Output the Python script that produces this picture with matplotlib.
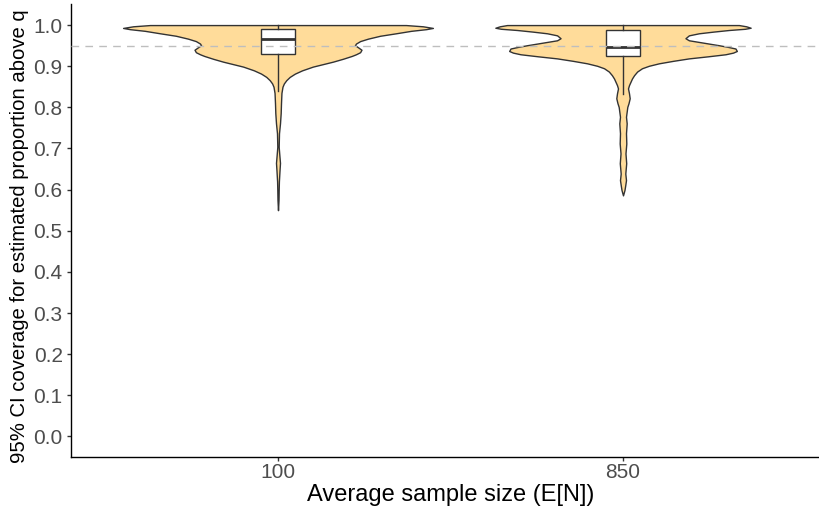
import numpy as np
import matplotlib.pyplot as plt

plt.rcParams['font.family'] = ['Liberation Sans', 'DejaVu Sans']

# --- data ---
categories = ["100", "850"]

# violin outlines: coverage value and half width (in x-axis units)
v100_y = [1.000, 0.997, 0.993, 0.990, 0.986, 0.980, 0.974, 0.967, 0.961, 0.955,
          0.951, 0.946, 0.940, 0.934, 0.929, 0.925, 0.918, 0.911, 0.905, 0.899,
          0.890, 0.882, 0.874, 0.866, 0.858, 0.850, 0.835, 0.810, 0.786, 0.761,
          0.737, 0.704, 0.685, 0.665, 0.645, 0.620, 0.599, 0.575, 0.550]
v100_w = [0.371, 0.420, 0.449, 0.429, 0.386, 0.342, 0.296, 0.261, 0.238, 0.226,
          0.223, 0.232, 0.242, 0.238, 0.226, 0.214, 0.188, 0.159, 0.130, 0.101,
          0.070, 0.049, 0.034, 0.024, 0.017, 0.013, 0.010, 0.0087, 0.0078, 0.0058,
          0.0029, 0.002, 0.0038, 0.0058, 0.0043, 0.0026, 0.002, 0.0015, 0.0]

v850_y = [1.000, 0.997, 0.9935, 0.991, 0.988, 0.984, 0.980, 0.975, 0.968, 0.963,
          0.959, 0.955, 0.951, 0.947, 0.943, 0.937, 0.933, 0.929, 0.924, 0.919,
          0.913, 0.907, 0.901, 0.895, 0.887, 0.878, 0.870, 0.862, 0.854, 0.846,
          0.834, 0.822, 0.810, 0.801, 0.777, 0.761, 0.737, 0.712, 0.688, 0.664,
          0.639, 0.623, 0.610, 0.599, 0.586]
v850_w = [0.336, 0.357, 0.370, 0.354, 0.307, 0.261, 0.220, 0.191, 0.181, 0.191,
          0.220, 0.249, 0.278, 0.304, 0.326, 0.330, 0.319, 0.297, 0.246, 0.191,
          0.145, 0.104, 0.075, 0.055, 0.041, 0.032, 0.026, 0.0217, 0.0174, 0.0145,
          0.0174, 0.0194, 0.016, 0.0125, 0.0087, 0.0107, 0.0087, 0.0096, 0.0072, 0.0093,
          0.0067, 0.0087, 0.0064, 0.0043, 0.0]

# box stats: lower whisker, q1, median, q3, upper whisker
box100 = [0.840, 0.929, 0.965, 0.9895, 1.000]
box850 = [0.832, 0.9246, 0.947, 0.988, 1.000]

target = 0.95

# --- plot ---
fig = plt.figure(figsize=(8.2, 5.17), dpi=100)
ax = fig.add_axes([71 / 820, 1 - 457 / 517, 759 / 820, 452.5 / 517])

fill_col = '#FFDC9A'
edge_col = '#333333'

violins = [(v100_y, v100_w), (v850_y, v850_w)]
for pos, (vy, vw) in enumerate(violins, start=1):
    vy = np.array(vy)
    vw = np.array(vw)
    ax.fill_betweenx(vy, pos - vw, pos + vw, facecolor=fill_col,
                     edgecolor=edge_col, linewidth=1.0, zorder=2)

stats = []
for name, b in zip(categories, [box100, box850]):
    stats.append(dict(label=name, whislo=b[0], q1=b[1], med=b[2], q3=b[3],
                      whishi=b[4], fliers=[]))

ax.bxp(stats, positions=[1, 2], widths=0.1, patch_artist=True,
       showcaps=False, showfliers=False,
       boxprops=dict(facecolor='white', edgecolor=edge_col, linewidth=1.0),
       whiskerprops=dict(color=edge_col, linewidth=1.0),
       medianprops=dict(color=edge_col, linewidth=2.0),
       zorder=3)

ax.axhline(target, color='#BEBEBE', linestyle=(0, (5.5, 4.5)), linewidth=1.0, zorder=4)

ax.set_xlim(0.4, 2.6)
ax.set_ylim(-0.05, 1.05)
ax.set_xticks([1, 2])
ax.set_xticklabels(categories)
ax.set_yticks(np.arange(0, 1.01, 0.1))
ax.set_yticklabels([f"{t:.1f}" for t in np.arange(0, 1.01, 0.1)])

for s in ['top', 'right']:
    ax.spines[s].set_visible(False)
for s in ['left', 'bottom']:
    ax.spines[s].set_color('black')
    ax.spines[s].set_linewidth(1.0)

ax.tick_params(axis='both', colors='#333333', length=3, width=1.0,
               labelsize=15, labelcolor='#4D4D4D')
ax.tick_params(axis='y', pad=3)
ax.tick_params(axis='x', pad=1.5)

ax.set_xlabel("Average sample size (E[N])", fontsize=17, color='black', labelpad=1)
ax.set_ylabel("95% CI coverage for estimated proportion above q", fontsize=14.6,
              color='black')
ax.yaxis.set_label_coords(-0.055, 0.487)

fig.savefig("out.png", dpi=100)
